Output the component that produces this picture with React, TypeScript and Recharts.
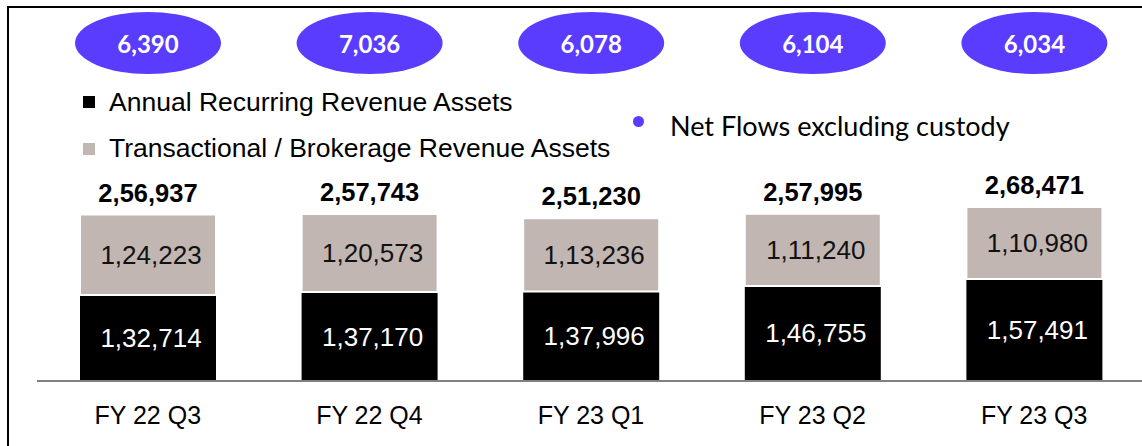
import React from 'react';
import { BarChart, Bar, XAxis, YAxis, LabelList, Legend } from 'recharts';

const quarters = ['FY 22 Q3', 'FY 22 Q4', 'FY 23 Q1', 'FY 23 Q2', 'FY 23 Q3'];
const recurring = [132714, 137170, 137996, 146755, 157491];
const transactional = [124223, 120573, 113236, 111240, 110980];
const totals = [256937, 257743, 251230, 257995, 268471];
const netFlows = [6390, 7036, 6078, 6104, 6034];

const data = quarters.map((q, i) => ({
  quarter: q,
  recurring: recurring[i],
  transactional: transactional[i],
  total: totals[i],
  netFlow: netFlows[i],
}));

const ARIAL = '"Liberation Sans", Arial, Helvetica, sans-serif';
const GEO = 'Lato, "Open Sans", sans-serif';
const PURPLE = '#5a3cff';
const GRAY = '#c1b6b1';

function indian(n: number): string {
  const s = String(Math.round(n));
  if (s.length <= 3) return s;
  const last3 = s.slice(-3);
  let rest = s.slice(0, -3);
  const parts: string[] = [];
  while (rest.length > 2) {
    parts.unshift(rest.slice(-2));
    rest = rest.slice(0, -2);
  }
  if (rest.length) parts.unshift(rest);
  return parts.join(',') + ',' + last3;
}

const EllipseLabel = (props: any) => {
  const { x, width, value } = props;
  const cx = Number(x) + Number(width) / 2;
  const cy = 43;
  return (
    <g>
      <ellipse cx={cx} cy={cy} rx={73} ry={31} fill={PURPLE} />
      <text x={cx} y={cy} textAnchor="middle" dominantBaseline="central" fill="#fff" fontFamily={GEO} fontWeight={700} fontSize={24}>
        {value.toLocaleString('en-US')}
      </text>
    </g>
  );
};

const TotalLabel = (props: any) => {
  const { x, y, width, value } = props;
  const cx = Number(x) + Number(width) / 2;
  return (
    <text x={cx} y={Number(y) - 22} textAnchor="middle" dominantBaseline="central" fill="#000" fontFamily={ARIAL} fontWeight={700} fontSize={25.5}>
      {indian(value)}
    </text>
  );
};

const CenterLabel = (color: string) => (props: any) => {
  const { x, y, width, height, value } = props;
  return (
    <text x={Number(x) + Number(width) / 2 + 3} y={Number(y) + Number(height) / 2} textAnchor="middle" dominantBaseline="central" fill={color} fontFamily={ARIAL} fontSize={26}>
      {indian(value)}
    </text>
  );
};

const Tick = (props: any) => {
  const { x, y, payload } = props;
  return (
    <text x={x} y={Number(y) + 34} textAnchor="middle" dominantBaseline="central" fill="#000" fontFamily={ARIAL} fontSize={25}>
      {payload.value}
    </text>
  );
};

const LegendContent = () => {
  const txt: React.CSSProperties = { position: 'absolute', fontFamily: ARIAL, fontSize: 26.5, color: '#000', whiteSpace: 'nowrap', lineHeight: '30px' };
  return (
    <div style={{ position: 'relative', width: 0, height: 0 }}>
      <div style={{ position: 'absolute', left: 83, top: 96, width: 12, height: 12, background: '#000' }} />
      <div style={{ ...txt, left: 109, top: 87 }}>Annual Recurring Revenue Assets</div>
      <div style={{ position: 'absolute', left: 83, top: 143, width: 12, height: 12, background: GRAY }} />
      <div style={{ ...txt, left: 109, top: 133 }}>Transactional / Brokerage Revenue Assets</div>
      <div style={{ position: 'absolute', left: 633, top: 116, width: 11, height: 11, borderRadius: '50%', background: PURPLE }} />
      <div style={{ ...txt, left: 670, top: 111, fontFamily: GEO, fontSize: 27 }}>Net Flows excluding custody</div>
    </div>
  );
};

export default function App() {
  return (
    <div style={{ position: 'absolute', left: 0, top: 0, width: 1142, height: 446, overflow: 'hidden', background: '#fff' }}>
      <div style={{ position: 'absolute', left: 7, top: 6, width: 1200, height: 500, borderTop: '2px solid #000', borderLeft: '2px solid #000' }} />
      <div style={{ position: 'absolute', left: 0, top: 0 }}>
        <BarChart width={1150} height={446} data={data} margin={{ top: 186.6, right: 5, bottom: 0, left: 37 }} barSize={136}>
          <XAxis dataKey="quarter" height={65} axisLine={{ stroke: '#808080', strokeWidth: 2 }} tickLine={false} tickSize={0} tickMargin={0} tick={<Tick />} interval={0} />
          <YAxis hide domain={[0, 300000]} />
          <Legend content={<LegendContent />} wrapperStyle={{ left: 0, top: 0, width: 0, height: 0 }} />
          <Bar dataKey="recurring" name="Annual Recurring Revenue Assets" stackId="a" fill="#000" isAnimationActive={false}>
            <LabelList dataKey="recurring" content={CenterLabel('#fff')} />
          </Bar>
          <Bar dataKey="transactional" name="Transactional / Brokerage Revenue Assets" stackId="a" fill={GRAY} stroke="#fff" strokeWidth={2} isAnimationActive={false}>
            <LabelList dataKey="transactional" content={CenterLabel('#111')} />
            <LabelList dataKey="total" content={<TotalLabel />} />
            <LabelList dataKey="netFlow" content={<EllipseLabel />} />
          </Bar>
        </BarChart>
      </div>
    </div>
  );
}
